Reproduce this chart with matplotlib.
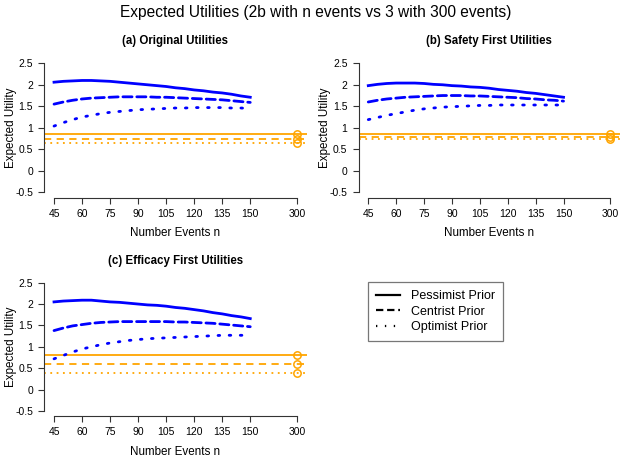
import matplotlib
matplotlib.use("Agg")
import matplotlib.pyplot as plt
from matplotlib.lines import Line2D
import numpy as np

plt.rcParams['font.family'] = ['Liberation Sans', 'DejaVu Sans']

# number of events n (read every 5 events); 300 is drawn at a compressed position
n = [45, 50, 55, 60, 65, 70, 75, 80, 85, 90, 95, 100, 105, 110, 115, 120,
     125, 130, 135, 140, 145, 150]
x_ticks = [45, 60, 75, 90, 105, 120, 135, 150, 175]
x_tick_labels = ['45', '60', '75', '90', '105', '120', '135', '150', '300']
x_300 = 175
y_ticks = [-0.5, 0, 0.5, 1, 1.5, 2, 2.5]
y_tick_labels = ['-0.5', '0', '0.5', '1', '1.5', '2', '2.5']

titles = ['(a) Original Utilities', '(b) Safety First Utilities',
          '(c) Efficacy First Utilities']
priors = ['Pessimist Prior', 'Centrist Prior', 'Optimist Prior']

# (a) original utilities
a_pess = [2.06, 2.08, 2.09, 2.10, 2.10, 2.09, 2.08, 2.06, 2.04, 2.02, 2.00,
          1.98, 1.96, 1.93, 1.91, 1.88, 1.86, 1.83, 1.81, 1.78, 1.74, 1.71]
a_cent = [1.55, 1.60, 1.64, 1.67, 1.69, 1.70, 1.71, 1.72, 1.72, 1.72, 1.72,
          1.71, 1.71, 1.70, 1.69, 1.68, 1.67, 1.66, 1.65, 1.63, 1.61, 1.59]
a_opti = [1.04, 1.12, 1.19, 1.25, 1.29, 1.33, 1.36, 1.38, 1.40, 1.42, 1.43,
          1.44, 1.45, 1.46, 1.46, 1.47, 1.47, 1.47, 1.47, 1.46, 1.46, 1.45]
a_300 = [0.85, 0.75, 0.65]

# (b) safety first utilities
b_pess = [1.98, 2.01, 2.03, 2.04, 2.04, 2.04, 2.03, 2.01, 2.00, 1.98, 1.97,
          1.95, 1.94, 1.92, 1.89, 1.87, 1.85, 1.82, 1.80, 1.77, 1.74, 1.71]
b_cent = [1.60, 1.64, 1.67, 1.69, 1.71, 1.72, 1.73, 1.74, 1.75, 1.75, 1.75,
          1.74, 1.74, 1.73, 1.72, 1.71, 1.70, 1.68, 1.67, 1.65, 1.64, 1.62]
b_opti = [1.19, 1.24, 1.29, 1.33, 1.37, 1.41, 1.44, 1.46, 1.48, 1.49, 1.50,
          1.51, 1.52, 1.52, 1.53, 1.53, 1.53, 1.53, 1.53, 1.53, 1.53, 1.53]
b_300 = [0.85, 0.79, 0.73]

# (c) efficacy first utilities
c_pess = [2.05, 2.07, 2.08, 2.09, 2.09, 2.07, 2.05, 2.04, 2.02, 2.00, 1.98,
          1.97, 1.95, 1.92, 1.90, 1.87, 1.84, 1.80, 1.77, 1.73, 1.70, 1.66]
c_cent = [1.38, 1.44, 1.49, 1.52, 1.55, 1.57, 1.58, 1.59, 1.59, 1.59, 1.59,
          1.59, 1.59, 1.58, 1.58, 1.57, 1.56, 1.55, 1.53, 1.51, 1.49, 1.47]
c_opti = [0.72, 0.80, 0.88, 0.95, 1.00, 1.05, 1.09, 1.12, 1.15, 1.17, 1.19,
          1.20, 1.21, 1.22, 1.23, 1.24, 1.25, 1.26, 1.27, 1.27, 1.27, 1.27]
c_300 = [0.80, 0.60, 0.40]

panels = [(a_pess, a_cent, a_opti, a_300),
          (b_pess, b_cent, b_opti, b_300),
          (c_pess, c_cent, c_opti, c_300)]

W, H = 625, 458
fig = plt.figure(figsize=(W / 100, H / 100), dpi=100)

# axes boxes in pixels: left, top, right, bottom
boxes = [(44.3, 58.1, 306.7, 197.5),
         (358.6, 58.1, 619.7, 197.5),
         (44.3, 277.5, 306.7, 416.2)]

styles = [dict(ls='-'), dict(ls=(0, (3.3, 1.7))), dict(ls=(0, (0.6, 3.4)))]
o_styles = [dict(ls='-'), dict(ls=(0, (4, 3))), dict(ls=(0, (1, 2.5)))]

for k, (box, data) in enumerate(zip(boxes, panels)):
    l, t, r, b = box
    ax = fig.add_axes([l / W, 1 - b / H, (r - l) / W, (b - t) / H])
    ax.set_xlim(39.8, 180.2)
    ax.set_ylim(-0.62, 2.62)
    for j in range(3):
        ax.axhline(data[3][j], color='orange', lw=1.3, **o_styles[j])
        ax.plot(n, data[j], color='blue', lw=2.0,
                dash_capstyle='round', **styles[j])
    ax.plot([x_300] * 3, data[3], 'o', mfc='none', mec='orange', ms=5.3,
            mew=1.1, clip_on=False)
    for s in ['top', 'right']:
        ax.spines[s].set_visible(False)
    ax.spines['left'].set_bounds(-0.5, 2.5)
    ax.spines['bottom'].set_bounds(45, 175)
    ax.spines['left'].set_color('#333333')
    ax.spines['bottom'].set_color('#333333')
    ax.set_xticks(x_ticks)
    ax.set_xticklabels(x_tick_labels)
    ax.set_yticks(y_ticks)
    ax.set_yticklabels(y_tick_labels)
    ax.tick_params(labelsize=7.5, length=4, width=0.8, color='#333333',
                   pad=4)
    ax.set_xlabel('Number Events n', fontsize=8.4)
    ax.set_ylabel('Expected Utility', fontsize=8.4)
    ax.xaxis.set_label_coords(0.5, -0.255)
    ax.xaxis.label.set_va('center')
    ax.yaxis.set_label_coords(-0.128, 0.5)
    ax.yaxis.label.set_va('center')
    ax.set_title(titles[k], fontsize=8.3, fontweight='bold', pad=10)

fig.text(316 / W, 1 - 13 / H, 'Expected Utilities (2b with n events vs 3 with 300 events)',
         ha='center', va='center', fontsize=11.2)

handles = [Line2D([], [], color='black', lw=1.6, **styles[j]) for j in range(3)]
leg = fig.legend(handles, priors, loc='upper left',
                 bbox_to_anchor=(368 / W, 1 - 282 / H), borderaxespad=0,
                 fontsize=9, handlelength=1.9, handletextpad=0.9,
                 borderpad=0.65, labelspacing=0.28, fancybox=False,
                 framealpha=1)
leg.get_frame().set_edgecolor('#777777')
leg.get_frame().set_linewidth(0.9)

fig.savefig('out.png', dpi=100)
